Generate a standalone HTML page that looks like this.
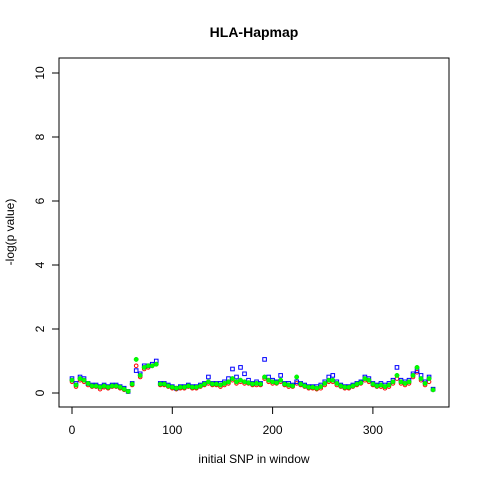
<!DOCTYPE html>
<html><head><meta charset="utf-8"><style>
body{margin:0;background:#fff}
svg{display:block;font-family:"Liberation Sans",sans-serif}
</style></head><body>
<svg id="c" width="480" height="480">
<rect width="480" height="480" fill="#fff"/>
<text x="254" y="37" font-size="14" font-weight="bold" text-anchor="middle">HLA-Hapmap</text>
<rect x="59" y="58" width="390" height="349" fill="none" stroke="#000"/>
<text x="254" y="463" font-size="12" text-anchor="middle">initial SNP in window</text>
<text transform="translate(14,232) rotate(-90)" font-size="12" text-anchor="middle">-log(p value)</text>
<g id="axes"></g><g id="pts"></g>
</svg>
<script>
const xTicks=[0,100,200,300];
const yTicks=[0,2,4,6,8,10];
const snpStart=0, snpStep=4;
const blueVals=[0.45,0.3,0.5,0.45,0.3,0.25,0.25,0.2,0.25,0.2,0.25,0.25,0.2,0.15,0.05,0.3,0.7,0.6,0.85,0.85,0.9,1.0,0.3,0.3,0.25,0.2,0.15,0.2,0.2,0.25,0.2,0.2,0.25,0.3,0.5,0.3,0.3,0.3,0.35,0.45,0.75,0.5,0.8,0.6,0.4,0.3,0.35,0.3,1.05,0.5,0.4,0.35,0.55,0.3,0.3,0.25,0.35,0.3,0.25,0.2,0.2,0.2,0.25,0.35,0.5,0.55,0.35,0.25,0.2,0.2,0.25,0.3,0.35,0.5,0.45,0.3,0.25,0.3,0.25,0.3,0.4,0.8,0.4,0.35,0.4,0.6,0.7,0.55,0.35,0.5,0.12];
const redVals=[0.35,0.2,0.4,0.35,0.25,0.2,0.2,0.12,0.18,0.15,0.2,0.2,0.15,0.1,0.04,0.25,0.85,0.5,0.75,0.8,0.85,0.9,0.25,0.25,0.2,0.15,0.12,0.15,0.15,0.2,0.15,0.15,0.2,0.25,0.3,0.25,0.25,0.2,0.25,0.3,0.4,0.3,0.35,0.3,0.3,0.25,0.25,0.25,0.45,0.35,0.3,0.3,0.35,0.25,0.2,0.2,0.3,0.25,0.2,0.15,0.15,0.12,0.15,0.25,0.35,0.35,0.25,0.2,0.15,0.15,0.2,0.25,0.3,0.4,0.35,0.25,0.2,0.2,0.15,0.2,0.3,0.45,0.3,0.25,0.3,0.5,0.65,0.4,0.25,0.35,0.1];
const greenVals=[0.4,0.25,0.45,0.4,0.3,0.22,0.22,0.18,0.22,0.18,0.22,0.22,0.18,0.12,0.05,0.28,1.05,0.55,0.8,0.85,0.85,0.9,0.28,0.28,0.22,0.18,0.15,0.18,0.18,0.22,0.18,0.18,0.22,0.28,0.35,0.28,0.28,0.25,0.3,0.35,0.45,0.35,0.4,0.35,0.32,0.28,0.3,0.28,0.5,0.4,0.35,0.32,0.4,0.28,0.25,0.22,0.5,0.28,0.22,0.18,0.18,0.15,0.2,0.3,0.4,0.4,0.3,0.22,0.18,0.18,0.22,0.28,0.32,0.45,0.4,0.28,0.22,0.25,0.2,0.25,0.35,0.55,0.35,0.3,0.35,0.55,0.8,0.45,0.3,0.45,0.1];
const X=v=>72+v*1.003;
const Y=v=>393-v*32;
const NS='http://www.w3.org/2000/svg';
const ax=document.getElementById('axes'), pts=document.getElementById('pts');
function mk(t,a,p){const e=document.createElementNS(NS,t);for(const k in a)e.setAttribute(k,a[k]);p.appendChild(e);return e;}
mk('line',{x1:X(0),x2:X(300),y1:407,y2:407,stroke:'#000'},ax);
xTicks.forEach(t=>{
  const l=mk('line',{x1:X(t),x2:X(t),y1:407,y2:414,stroke:'#000'},ax);
  
  
  const tx=mk('text',{x:X(t),y:434,'font-size':12,'text-anchor':'middle'},ax);tx.textContent=t;
  
  
});
mk('line',{x1:59,x2:59,y1:Y(0),y2:Y(10),stroke:'#000'},ax);
yTicks.forEach(t=>{
  const l=mk('line',{x1:52,x2:59,y1:Y(t),y2:Y(t),stroke:'#000'},ax);
  
  
  const tx=mk('text',{transform:`translate(44,${Y(t)}) rotate(-90)`,'font-size':12,'text-anchor':'middle'},ax);tx.textContent=t;
  
  
});
redVals.forEach((v,i)=>{
  const c=mk('circle',{cx:X(snpStart+i*snpStep),cy:Y(v),r:1.8,fill:'none',stroke:'#f00','stroke-width':1},pts);
  
  
});
blueVals.forEach((v,i)=>{
  const r=mk('rect',{x:X(snpStart+i*snpStep)-1.8,y:Y(v)-1.8,width:3.6,height:3.6,fill:'none',stroke:'#00f','stroke-width':1},pts);
  
  
});
greenVals.forEach((v,i)=>{
  const c=mk('circle',{cx:X(snpStart+i*snpStep),cy:Y(v),r:2.2,fill:'#0f0',stroke:'#0d0','stroke-width':0.5},pts);
  
  
});
</script>
</body></html>
